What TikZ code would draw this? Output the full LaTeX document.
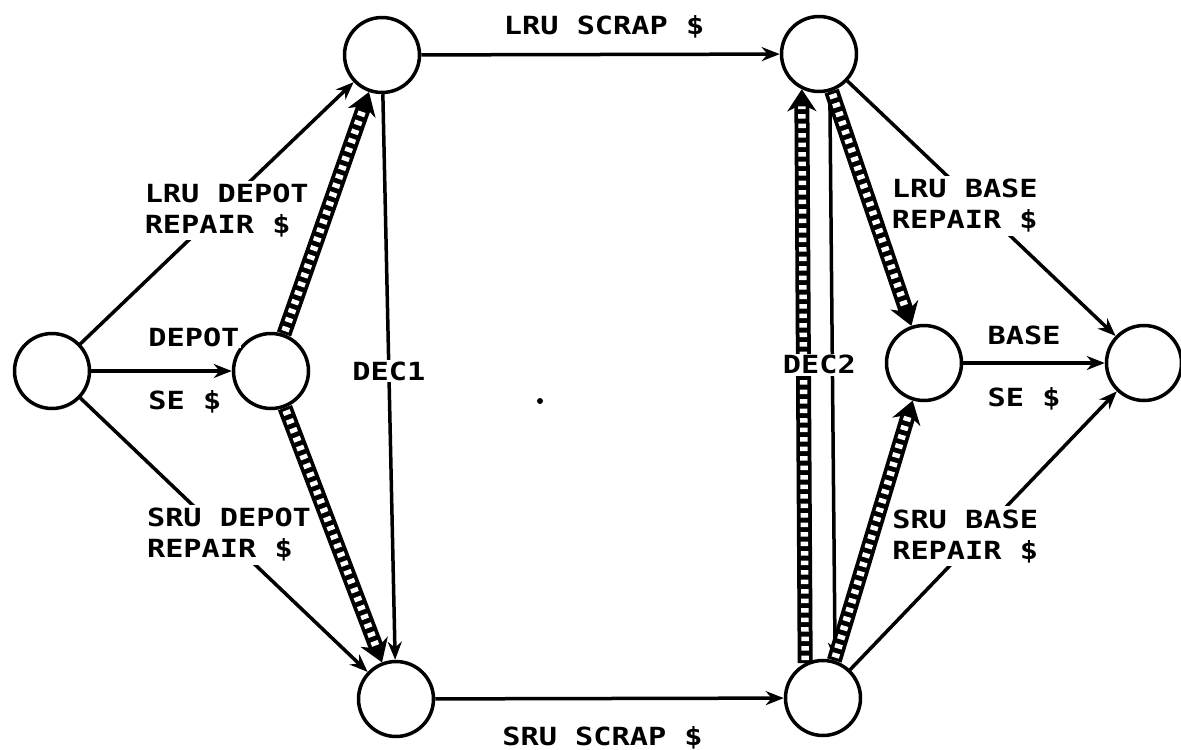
\documentclass[tikz,border=0pt]{standalone}
\usepackage{fontspec}
\usetikzlibrary{arrows.meta}
\newfontfamily\plotfont{DejaVu Sans Mono}[FakeStretch=1.21]

\begin{document}
\begin{tikzpicture}[x=1bp,y=-1bp,>={Stealth[length=18bp,width=14bp]},line join=bevel,line width=3.5bp,
    state/.style={draw,circle,minimum size=75bp,inner sep=0pt},
    caption/.style={font=\plotfont\bfseries\fontsize{25bp}{31bp}\selectfont,fill=white,inner sep=2bp,text height=18bp,text depth=0bp},
    twoline/.style={font=\plotfont\bfseries\fontsize{25bp}{31bp}\selectfont,fill=white,inner sep=3bp,align=left},
    ladder/.style={line width=15bp,-{Stealth[length=22bp,width=29bp]},
      postaction={draw=white,-,line width=7.5bp,dash pattern=on 4.5bp off 5bp,shorten <=3bp,shorten >=17bp}}]
  \useasboundingbox (0,0) rectangle (1181,750);
%%
  % Node: src
  \node[state] (src) at (52,371) {};
  % Node: depot
  \node[state] (depot) at (271,371) {};
  % Node: lruD
  \node[state] (lruD) at (382,55) {};
  % Node: sruD
  \node[state] (sruD) at (396,699) {};
  % Node: lruB
  \node[state] (lruB) at (819,54) {};
  % Node: sruB
  \node[state] (sruB) at (823,698) {};
  % Node: base
  \node[state] (base) at (924,363) {};
  % Node: sink
  \node[state] (sink) at (1144,363) {};
%
  % Edge: src -> depot
  \draw[->] (src) -- node[caption,pos=0.38,anchor=west,yshift=34bp] {DEPOT}
                     node[caption,pos=0.38,anchor=west,yshift=-29bp] {SE \$} (depot);
  % Edge: src -> lruD
  \draw[->] (src) -- node[twoline,pos=0.51,xshift=7bp] {LRU DEPOT\\REPAIR \$} (lruD);
  % Edge: src -> sruD
  \draw[->] (src) -- node[twoline,pos=0.5,xshift=5bp] {SRU DEPOT\\REPAIR \$} (sruD);
  % Edge: depot -> lruD, depot -> sruD
  \draw[ladder] (depot) -- (lruD);
  \draw[ladder] (depot) -- (sruD);
  % Edge: lruD -> sruD
  \draw[->] (lruD) -- node[caption,pos=0.49] {DEC1} (sruD);
  % Edge: lruD -> lruB
  \draw[->] (lruD) -- node[caption,pos=0.51,yshift=29bp] {LRU SCRAP \$} (lruB);
  % Edge: sruD -> sruB
  \draw[->] (sruD) -- node[caption,pos=0.48,yshift=-38bp] {SRU SCRAP \$} (sruB);
  % Edge: sruB -> lruB
  \draw[ladder] (sruB.117) -- (lruB.244);
  % Edge: lruB -> sruB
  \draw[->] (lruB.286) -- node[caption,pos=0.48,xshift=-13bp] {DEC2} (sruB.72);
  % Edge: lruB -> base, sruB -> base
  \draw[ladder] (lruB) -- (base);
  \draw[ladder] (sruB) -- (base);
  % Edge: lruB -> sink
  \draw[->] (lruB) -- node[twoline,pos=0.49,xshift=-14bp] {LRU BASE\\REPAIR \$} (sink);
  % Edge: sruB -> sink
  \draw[->] (sruB) -- node[twoline,pos=0.48,xshift=-13bp] {SRU BASE\\REPAIR \$} (sink);
  % Edge: base -> sink
  \draw[->] (base) -- node[caption,pos=0.146,anchor=west,yshift=28bp] {BASE}
                      node[caption,pos=0.146,anchor=west,yshift=-34bp] {SE \$} (sink);
%
  \fill (540,401) circle (3bp);
\end{tikzpicture}
\end{document}
